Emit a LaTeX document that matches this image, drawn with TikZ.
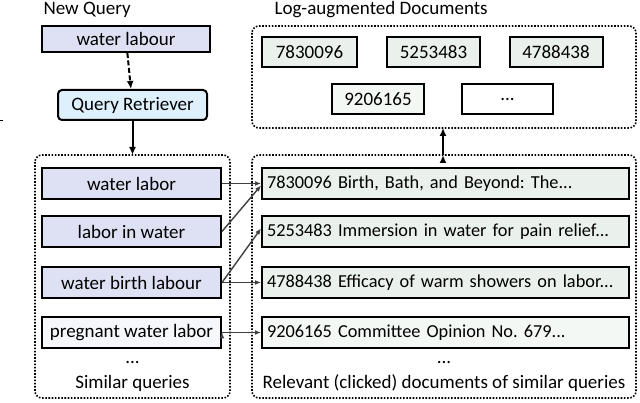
\documentclass[tikz,border=0pt]{standalone}
\usepackage{fontspec}
\setmainfont{Carlito}
\usepackage{tikz}
\usetikzlibrary{arrows.meta}

\definecolor{qfill}{HTML}{DDE1F3}
\definecolor{rfill}{HTML}{DDF0FB}
\definecolor{dfill}{HTML}{EAF1EC}
\definecolor{dlight}{HTML}{F4F8F5}
\definecolor{plight}{HTML}{F6F7FB}
\definecolor{linkgray}{HTML}{404040}

\tikzset{
	qbox/.style={draw, line width=2pt, fill=qfill, minimum width=179pt, minimum height=31pt, inner sep=0pt},
	dbox/.style={draw, line width=2pt, fill=dfill, minimum width=367pt, minimum height=31pt, inner sep=0pt, text width=357pt, align=left, font=\fontsize{18.3}{22}\selectfont},
	idbox/.style={draw, line width=2pt, fill=dfill, minimum width=93pt, minimum height=30pt, inner sep=0pt},
	group/.style={draw, line width=1.6pt, dash pattern=on 1.6pt off 1.6pt, rounded corners=7pt},
	link/.style={-{Latex[length=8pt,width=7pt]}, draw=black, fill=black, line width=2pt}
}

\begin{document}
\frenchspacing
\begin{tikzpicture}[x=1pt, y=-1pt, font=\fontsize{19}{23}\selectfont]
	\useasboundingbox (0,0) rectangle (640,403);

	% groups
	\draw[group] (35,155) rectangle (230,398);
	\draw[group] (252,155) rectangle (636,398);
	\draw[group] (252,26) rectangle (636,128);
	\draw (0,120) -- (3,120);

	% new query
	\node[anchor=west] (newq) at (40,10) {New Query};
	\node[qbox, minimum width=168pt, minimum height=26pt] (query) at (126,39) {water labour};
	\node[draw, line width=2pt, fill=rfill, rounded corners=4pt, minimum width=149pt, minimum height=30pt, inner sep=0pt] (retr) at (132.5,105) {Query Retriever};

	% similar queries
	\node[qbox] (sq1) at (131.5,183.5) {water labor};
	\node[qbox] (sq2) at (131.5,231.5) {labor in water};
	\node[qbox] (sq3) at (131.5,282.5) {water birth labour};
	\node[qbox, fill=plight] (sq4) at (131.5,332.5) {pregnant water labor};
	\node (sqdots) at (132.5,362) {...};
	\node (sqlab) at (132.5,383) {Similar queries};

	% relevant documents
	\node[dbox] (d1) at (445.5,183.5) {7830096 Birth, Bath, and Beyond: The...};
	\node[dbox] (d2) at (445.5,231.5) {5253483 Immersion in water for pain relief...};
	\node[dbox] (d3) at (445.5,282.5) {4788438 Efficacy of warm showers on labor...};
	\node[dbox, fill=dlight] (d4) at (445.5,332.5) {9206165 Committee Opinion No. 679...};
	\node (ddots) at (444,362) {...};
	\node (dlab) at (444,383) {Relevant (clicked) documents of similar queries};

	% log-augmented documents
	\node[anchor=west] (logtitle) at (271,10) {Log-augmented Documents};
	\node[idbox, minimum width=95pt] (l1) at (309.5,52) {7830096};
	\node[idbox] (l2) at (433.5,52) {5253483};
	\node[idbox] (l3) at (556,52) {4788438};
	\node[idbox, fill=dlight, minimum width=92pt] (l4) at (378,99.5) {9206165};
	\node[idbox, fill=white, minimum width=91pt] (l5) at (507.5,99.5) {...};

	\coordinate (dtop) at (443,155);
	\coordinate (ltop) at (443,128);
	\coordinate (sqtop) at (132.5,155);

	\path[link]
	(query) edge[dash pattern=on 5pt off 2.5pt] (retr)
	(retr) edge (sqtop)
	(dtop) edge (ltop);
	\path[link, draw=linkgray, fill=linkgray, line width=1.4pt, -{Latex[length=6pt,width=5pt]}]
	(sq1.east) edge (d1.west)
	(sq2.east) edge ([yshift=-2pt]d1.west)
	(sq3.east) edge ([yshift=3pt]d2.west) edge (d3.west)
	(sq4.east) edge (d4.west);
\end{tikzpicture}
\end{document}
